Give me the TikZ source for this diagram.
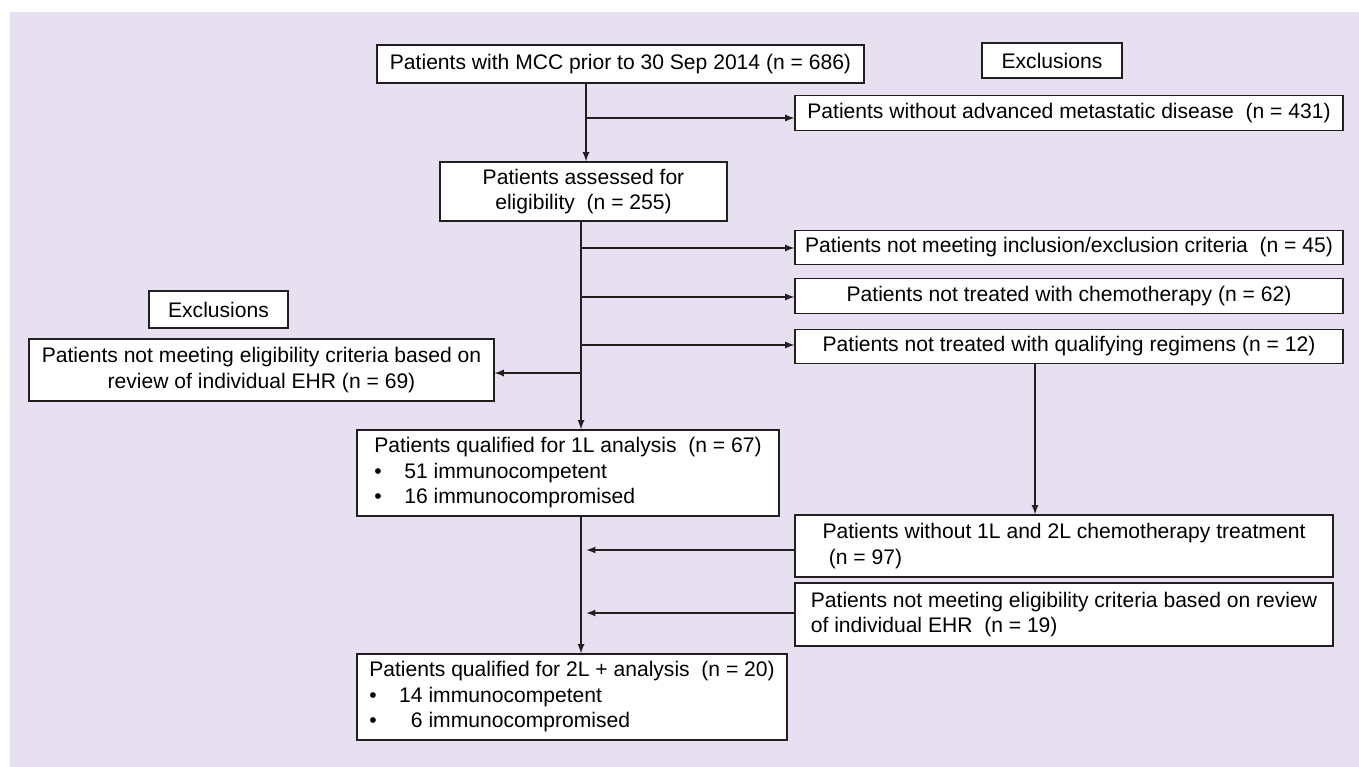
\documentclass[tikz,border=0pt]{standalone}
\usepackage{fontspec}
\setmainfont{Liberation Sans}
\usetikzlibrary{arrows}
\definecolor{lavender}{RGB}{230,224,240}
\definecolor{inkline}{RGB}{35,31,32}

\begin{document}
\begin{tikzpicture}[x=0.02cm,y=-0.02cm]
\tikzstyle{box} = [rectangle, draw=inkline, line width=0.8pt, fill=white,
inner sep=2pt, align=center, font=\fontsize{12}{14.5}\selectfont]
\tikzstyle{exbox} = [box, minimum width=10.96cm, minimum height=0.69cm]
\tikzstyle{line} = [draw=inkline, line width=0.8pt, ->, >=latex]

% background
\useasboundingbox (0,0) rectangle (1359,767);
\fill[white] (0,0) rectangle (1359,767);
\fill[lavender] (10,12) rectangle (1359,767);

% main column
\node [box, minimum width=9.74cm, minimum height=0.76cm] (start) at (620.5,64)
{Patients with MCC prior to 30 Sep 2014 (n = 686)};
\node [box, minimum width=5.74cm, minimum height=1.18cm] (assessed) at (583.5,191.5)
{Patients assessed for\\eligibility\ \ (n = 255)};
\node [box, align=left, minimum width=8.44cm, minimum height=1.72cm] (qual1L) at (568,473)
{Patients qualified for 1L analysis\ \ (n = 67)\\
\makebox[0.6cm][l]{\textbullet}51 immunocompetent\\
\makebox[0.6cm][l]{\textbullet}16 immunocompromised};
\node [box, align=left, minimum width=8.6cm, minimum height=1.72cm] (qual2L) at (572,697)
{Patients qualified for 2L + analysis\ \ (n = 20)\\
\makebox[0.6cm][l]{\textbullet}14 immunocompetent\\
\makebox[0.6cm][l]{\textbullet}\phantom{1}6 immunocompromised};

% exclusions, right side
\node [box, minimum width=2.8cm, minimum height=0.7cm] (exclR) at (1052,60.5) {Exclusions};
\node [exbox] (ex431) at (1069,113) {Patients without advanced metastatic disease\ \ (n = 431)};
\node [exbox] (ex45) at (1069,247.5) {Patients not meeting inclusion/exclusion criteria\ \ (n = 45)};
\node [exbox] (ex62) at (1069,296) {Patients not treated with chemotherapy (n = 62)};
\node [exbox] (ex12) at (1069,346.5) {Patients not treated with qualifying regimens (n = 12)};
\node [box, align=left, minimum width=10.76cm, minimum height=1.24cm] (ex97) at (1064,546)
{Patients without 1L and 2L chemotherapy treatment\\\hspace*{0.3em}(n = 97)};
\node [box, align=left, minimum width=10.76cm, minimum height=1.26cm] (ex19) at (1064,614.5)
{Patients not meeting eligibility criteria based on review\\of individual EHR\ \ (n = 19)};

% exclusions, left side
\node [box, minimum width=2.78cm, minimum height=0.74cm] (exclL) at (218.5,309.5) {Exclusions};
\node [box, minimum width=9.3cm, minimum height=1.24cm] (ex69) at (261.5,370)
{Patients not meeting eligibility criteria based on\\review of individual EHR (n = 69)};

% spine points
\coordinate (k1) at (586,118);
\coordinate (k2) at (581,248);
\coordinate (k3) at (581,297);
\coordinate (k4) at (581,345);
\coordinate (k5) at (581,373);
\coordinate (k6) at (581,550);
\coordinate (k7) at (581,613);

\path[line] (start.south -| k1) -- (assessed.north -| k1);
\path[line] (k1) -- (k1 -| ex431.west);
\path[line] (assessed.south -| k2) -- (qual1L.north -| k2);
\path[line] (k2) -- (k2 -| ex45.west);
\path[line] (k3) -- (k3 -| ex62.west);
\path[line] (k4) -- (k4 -| ex12.west);
\path[line] (k5) -- (k5 -| ex69.east);
\path[line] ([xshift=-0.68cm]ex12.south) -- ([xshift=-0.68cm]ex12.south |- ex97.north);
\path[line] (qual1L.south -| k6) -- (qual2L.north -| k6);
\path[line, shorten >=3pt] (ex97.west |- k6) -- (k6);
\path[line, shorten >=3pt] (ex19.west |- k7) -- (k7);
\end{tikzpicture}
\end{document}
